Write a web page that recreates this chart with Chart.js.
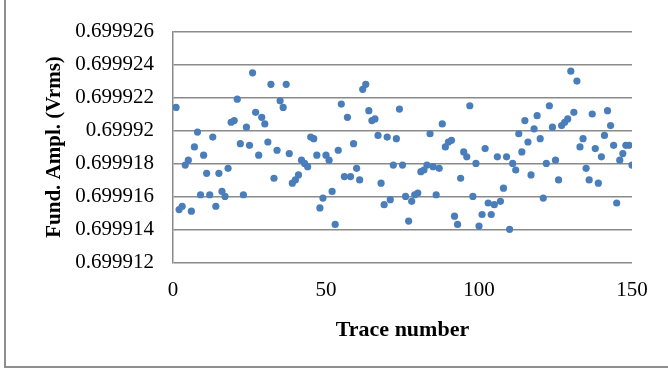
<!DOCTYPE html>
<html>
<head>
<meta charset="utf-8">
<script src="https://cdn.jsdelivr.net/npm/chart.js@4/dist/chart.umd.min.js"></script>
<style>
  html, body { margin: 0; padding: 0; background: #fff; }
  #wrap { width: 668px; height: 369px; position: relative; }
</style>
</head>
<body>
<div id="wrap"><canvas id="c" width="668" height="369"></canvas></div>
<script>
// Trace numbers (x) and fundamental amplitude values (y)
const traceNumbers = [
  1,2,3,4,5,6,7,8,9,10,11,12,13,14,15,16,17,18,19,20,
  21,22,23,24,25,26,27,28,29,30,31,32,33,34,35,36,37,38,39,40,
  41,42,43,44,45,46,47,48,49,50,51,52,53,54,55,56,57,58,59,60,
  61,62,63,64,65,66,67,68,69,70,71,72,73,74,75,76,77,78,79,80,
  81,82,83,84,85,86,87,88,89,90,91,92,93,94,95,96,97,98,99,100,
  101,102,103,104,105,106,107,108,109,110,111,112,113,114,115,116,117,118,119,120,
  121,122,123,124,125,126,127,128,129,130,131,132,133,134,135,136,137,138,139,140,
  141,142,143,144,145,146,147,148,149,150
];
const fundAmpl = [
  0.6999214,0.6999152,0.6999154,0.6999179,0.6999182,0.6999151,0.6999190,0.6999199,0.6999161,0.6999185,
  0.6999174,0.6999161,0.6999196,0.6999154,0.6999174,0.6999163,0.6999160,0.6999177,0.6999205,0.6999206,
  0.6999219,0.6999192,0.6999161,0.6999202,0.6999191,0.6999235,0.6999211,0.6999185,0.6999208,0.6999204,
  0.6999193,0.6999228,0.6999171,0.6999188,0.6999218,0.6999214,0.6999228,0.6999186,0.6999168,0.6999170,
  0.6999173,0.6999182,0.6999180,0.6999178,0.6999196,0.6999195,0.6999185,0.6999153,0.6999159,0.6999185,
  0.6999182,0.6999163,0.6999143,0.6999188,0.6999216,0.6999172,0.6999208,0.6999172,0.6999192,0.6999177,
  0.6999170,0.6999225,0.6999228,0.6999212,0.6999206,0.6999207,0.6999197,0.6999168,0.6999155,0.6999196,
  0.6999158,0.6999179,0.6999195,0.6999213,0.6999179,0.6999160,0.6999145,0.6999157,0.6999161,0.6999162,
  0.6999175,0.6999176,0.6999179,0.6999198,0.6999178,0.6999161,0.6999177,0.6999204,0.6999190,0.6999193,
  0.6999194,0.6999148,0.6999143,0.6999171,0.6999187,0.6999184,0.6999215,0.6999160,0.6999180,0.6999142,
  0.6999149,0.6999189,0.6999156,0.6999149,0.6999155,0.6999184,0.6999157,0.6999165,0.6999184,0.6999140,
  0.6999180,0.6999176,0.6999198,0.6999187,0.6999206,0.6999193,0.6999173,0.6999201,0.6999209,0.6999195,
  0.6999159,0.6999180,0.6999215,0.6999202,0.6999182,0.6999170,0.6999203,0.6999205,0.6999207,0.6999236,
  0.6999211,0.6999230,0.6999190,0.6999195,0.6999177,0.6999170,0.6999210,0.6999189,0.6999168,0.6999184,
  0.6999197,0.6999212,0.6999203,0.6999191,0.6999156,0.6999182,0.6999186,0.6999191,0.6999191,0.6999179
];
const yTickValues = [0.699912, 0.699914, 0.699916, 0.699918, 0.69992, 0.699922, 0.699924, 0.699926];
const yTickLabels = ['0.699912', '0.699914', '0.699916', '0.699918', '0.69992', '0.699922', '0.699924', '0.699926'];
const xTickValues = [0, 50, 100, 150];
const xTickLabels = ['0', '50', '100', '150'];
const xTitle = 'Trace number';
const yTitle = 'Fund. Ampl. (Vrms)';

const points = traceNumbers.map((t, i) => ({ x: t, y: fundAmpl[i] }));

const frame = {
  id: 'frame',
  afterDraw(chart) {
    const ctx = chart.ctx;
    ctx.save();
    ctx.strokeStyle = '#8f8f8f';
    ctx.lineWidth = 2;
    ctx.beginPath();
    ctx.moveTo(5, 0);
    ctx.lineTo(5, 367);
    ctx.lineTo(668, 367);
    ctx.stroke();
    ctx.restore();
  }
};

new Chart(document.getElementById('c'), {
  type: 'scatter',
  data: {
    datasets: [{
      data: points,
      backgroundColor: '#4a7ebb',
      borderColor: '#4a7ebb',
      borderWidth: 0,
      pointRadius: 3.6,
      pointHoverRadius: 3.6
    }]
  },
  options: {
    responsive: false,
    animation: false,
    events: [],
    layout: { padding: { left: 0, top: 25.7, right: 36, bottom: 0 } },
    plugins: { legend: { display: false }, tooltip: { enabled: false } },
    scales: {
      x: {
        type: 'linear',
        min: 0, max: 150,
        afterBuildTicks(scale) { scale.ticks = xTickValues.map(v => ({ value: v })); },
        afterFit(scale) { scale.height = 369 - 262.3; },
        grid: { display: false, drawTicks: false },
        border: { display: false },
        ticks: {
          padding: 16,
          color: '#000',
          font: { family: 'Liberation Serif', size: 21 },
          callback: (v) => xTickLabels[xTickValues.indexOf(v)],
          maxRotation: 0
        },
        title: {
          display: true,
          text: xTitle,
          color: '#000',
          font: { family: 'Liberation Serif', size: 22, weight: 'bold' },
          padding: { top: 0, bottom: 25.5 }
        }
      },
      y: {
        type: 'linear',
        min: 0.699912, max: 0.699926,
        afterBuildTicks(scale) { scale.ticks = yTickValues.map(v => ({ value: v })); },
        afterFit(scale) { scale.width = 173; },
        grid: { color: '#8a8a8a', lineWidth: 1.5, drawTicks: false },
        border: { display: true, color: '#8a8a8a', width: 1.5 },
        ticks: {
          padding: 19,
          color: '#000',
          font: { family: 'Liberation Serif', size: 21 },
          callback: (v) => yTickLabels[yTickValues.findIndex(t => Math.abs(t - v) < 1e-9)]
        },
        title: {
          display: true,
          text: yTitle,
          color: '#000',
          font: { family: 'Liberation Serif', size: 21, weight: 'bold' },
          padding: { top: 42, bottom: 0 }
        }
      }
    }
  },
  plugins: [frame]
});
</script>
</body>
</html>
